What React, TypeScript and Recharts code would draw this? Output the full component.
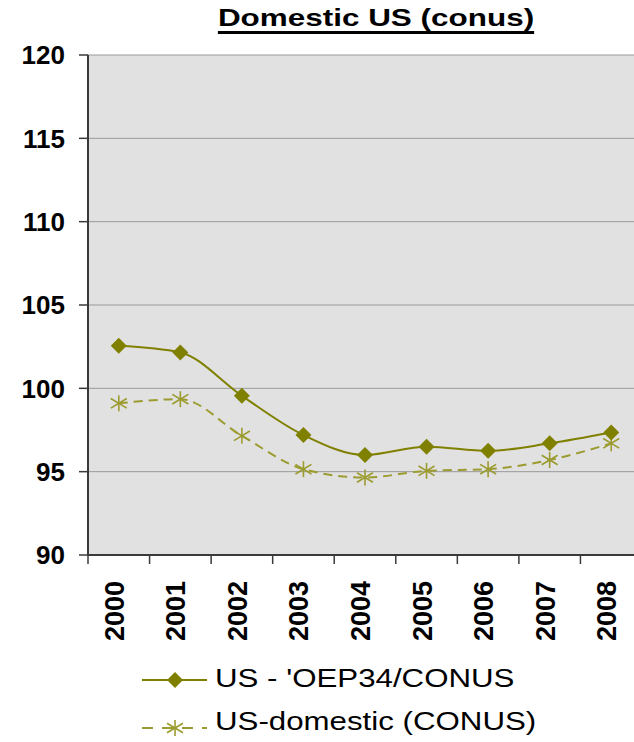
import { LineChart, Line, XAxis, YAxis, CartesianGrid } from 'recharts';

const years = ['2000', '2001', '2002', '2003', '2004', '2005', '2006', '2007', '2008'];
const oep34Conus = [102.55, 102.15, 99.55, 97.2, 96.0, 96.5, 96.25, 96.7, 97.35];
const domesticConus = [99.1, 99.35, 97.15, 95.15, 94.65, 95.05, 95.15, 95.7, 96.7];
const yTicks = [90, 95, 100, 105, 110, 115, 120];

const OLIVE = '#808000';
const OLIVE_LIGHT = '#9b9b2f';
const AXIS = '#3a3a3a';
const FONT = '"Liberation Sans", Arial, sans-serif';

// plot spans 88..642 px, nine categories
const BAND = 554 / 9;

const data = years.map((year, i) => ({
  year,
  oep34: oep34Conus[i],
  domestic: domesticConus[i],
}));

const Diamond = ({ cx, cy, r = 8, fill = OLIVE }: any) => (
  <polygon
    points={`${cx},${cy - r} ${cx + r},${cy} ${cx},${cy + r} ${cx - r},${cy}`}
    fill={fill}
  />
);

const Star = ({ cx, cy, r = 8, stroke = OLIVE_LIGHT }: any) => (
  <g stroke={stroke} strokeWidth={1.6}>
    <line x1={cx} y1={cy - r} x2={cx} y2={cy + r} />
    <line x1={cx - r} y1={cy - r * 0.6} x2={cx + r} y2={cy + r * 0.6} />
    <line x1={cx - r} y1={cy + r * 0.6} x2={cx + r} y2={cy - r * 0.6} />
  </g>
);

// year label rotated upwards, with the tick mark between categories
const YearTick = ({ x, y, payload, index, visibleTicksCount }: any) => {
  const axisY = y - 8;
  const left = x - BAND / 2;
  const last = index === visibleTicksCount - 1;
  return (
    <g>
      <line x1={left} x2={left} y1={axisY} y2={axisY + 9} stroke={AXIS} strokeWidth={1.5} />
      {last && (
        <line x1={x + BAND / 2} x2={x + BAND / 2} y1={axisY} y2={axisY + 9} stroke={AXIS} strokeWidth={1.5} />
      )}
      <text
        x={0}
        y={0}
        transform={`translate(${x + 5},${axisY + 86}) rotate(-90)`}
        textAnchor="start"
        fontSize={27}
        fontWeight="bold"
        fontFamily={FONT}
        fill="#000"
      >
        {payload.value}
      </text>
    </g>
  );
};

export default function App() {
  return (
    <div
      style={{
        position: 'absolute',
        left: 0,
        top: 0,
        width: 634,
        height: 742,
        overflow: 'hidden',
        background: '#fff',
        fontFamily: FONT,
      }}
    >
      <div
        style={{
          position: 'absolute',
          left: 376,
          top: 6,
          transform: 'translateX(-50%) scaleX(1.31)',
          fontSize: 24,
          lineHeight: '24px',
          fontWeight: 'bold',
          whiteSpace: 'nowrap',
          textDecoration: 'underline',
          textDecorationThickness: '2.5px',
          textUnderlineOffset: '5px',
        }}
      >
        Domestic US (conus)
      </div>

      <div style={{ position: 'absolute', left: 0, top: 0 }}>
        <LineChart width={650} height={650} data={data} margin={{ top: 55, right: 8, left: 0, bottom: 0 }}>
          <CartesianGrid vertical={false} stroke="#9a9a9a" fill="#e1e1e1" fillOpacity={1} />
          <XAxis
            dataKey="year"
            height={95}
            padding={{ left: BAND / 2, right: BAND / 2 }}
            interval={0}
            tickSize={8}
            tickMargin={0}
            tickLine={false}
            axisLine={{ stroke: AXIS, strokeWidth: 2 }}
            tick={<YearTick />}
          />
          <YAxis
            width={88}
            domain={[90, 120]}
            ticks={yTicks}
            interval={0}
            tickSize={9}
            tickMargin={14}
            axisLine={{ stroke: AXIS, strokeWidth: 2 }}
            tickLine={{ stroke: AXIS, strokeWidth: 1.5 }}
            tick={{ fontSize: 26, fontWeight: 'bold', fill: '#000', fontFamily: FONT }}
          />
          <Line
            dataKey="domestic"
            type="monotone"
            stroke={OLIVE_LIGHT}
            strokeWidth={2}
            strokeDasharray="9 6"
            dot={(p: any) => <Star key={`s-${p.index}`} cx={p.cx} cy={p.cy} />}
            activeDot={false}
            isAnimationActive={false}
          />
          <Line
            dataKey="oep34"
            type="monotone"
            stroke={OLIVE}
            strokeWidth={2}
            dot={(p: any) => <Diamond key={`d-${p.index}`} cx={p.cx} cy={p.cy} />}
            activeDot={false}
            isAnimationActive={false}
          />
        </LineChart>
      </div>

      {/* legend */}
      <svg style={{ position: 'absolute', left: 0, top: 660 }} width={214} height={82}>
        <line x1={142} x2={207} y1={20} y2={20} stroke={OLIVE} strokeWidth={2} />
        <Diamond cx={175} cy={20} r={8} />
        <line x1={142} x2={207} y1={68} y2={68} stroke={OLIVE_LIGHT} strokeWidth={2} strokeDasharray="11 9" />
        <Star cx={175} cy={68} r={8} />
      </svg>
      {[
        { label: "US - 'OEP34/CONUS", top: 666 },
        { label: 'US-domestic (CONUS)', top: 709 },
      ].map((row) => (
        <div
          key={row.label}
          style={{
            position: 'absolute',
            left: 215,
            top: row.top,
            fontSize: 25,
            lineHeight: '25px',
            whiteSpace: 'nowrap',
            transform: 'scaleX(1.25)',
            transformOrigin: 'left center',
          }}
        >
          {row.label}
        </div>
      ))}
    </div>
  );
}
